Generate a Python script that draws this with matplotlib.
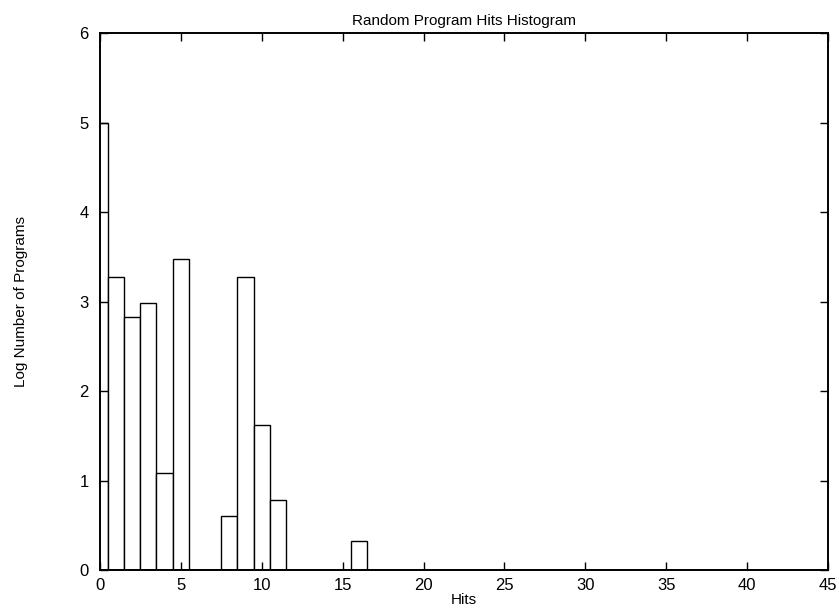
import numpy as np
import matplotlib
matplotlib.use("Agg")
import matplotlib.pyplot as plt

plt.rcParams['font.family'] = ['Liberation Sans', 'DejaVu Sans']

# hits per program and log count of programs with that many hits
hits = [0, 1, 2, 3, 4, 5, 6, 7, 8, 9, 10, 11, 16]
log_counts = [5.0, 3.27, 2.83, 2.98, 1.08, 3.48, 0.0, 0.0, 0.6, 3.28, 1.62, 0.78, 0.32]

x_ticks = [0, 5, 10, 15, 20, 25, 30, 35, 40, 45]
y_ticks = [0, 1, 2, 3, 4, 5, 6]

fig = plt.figure(figsize=(8.39, 6.13), dpi=100)
ax = fig.add_axes([0.119, 0.070, 0.868, 0.876])

ax.bar(hits, log_counts, width=1.0, align='center',
       facecolor='white', edgecolor='black', linewidth=1.0)
# zero baseline along the empty bins
ax.plot([0, 45], [0, 0], color='black', linewidth=1.2)

ax.set_xlim(0, 45)
ax.set_ylim(0, 6)
ax.set_xticks(x_ticks)
ax.set_yticks(y_ticks)
ax.tick_params(direction='in', length=6, width=1.0, top=True, right=True,
               labelsize=12)
ax.tick_params(axis='x', pad=6)
ax.tick_params(axis='y', pad=8)
for s in ax.spines.values():
    s.set_linewidth(1.4)

ax.set_title('Random Program Hits Histogram', fontsize=11, pad=6)
ax.set_xlabel('Hits', fontsize=11, labelpad=0)
ax.set_ylabel('Log Number of Programs', fontsize=11, labelpad=37)

fig.savefig('out.png', dpi=100)
